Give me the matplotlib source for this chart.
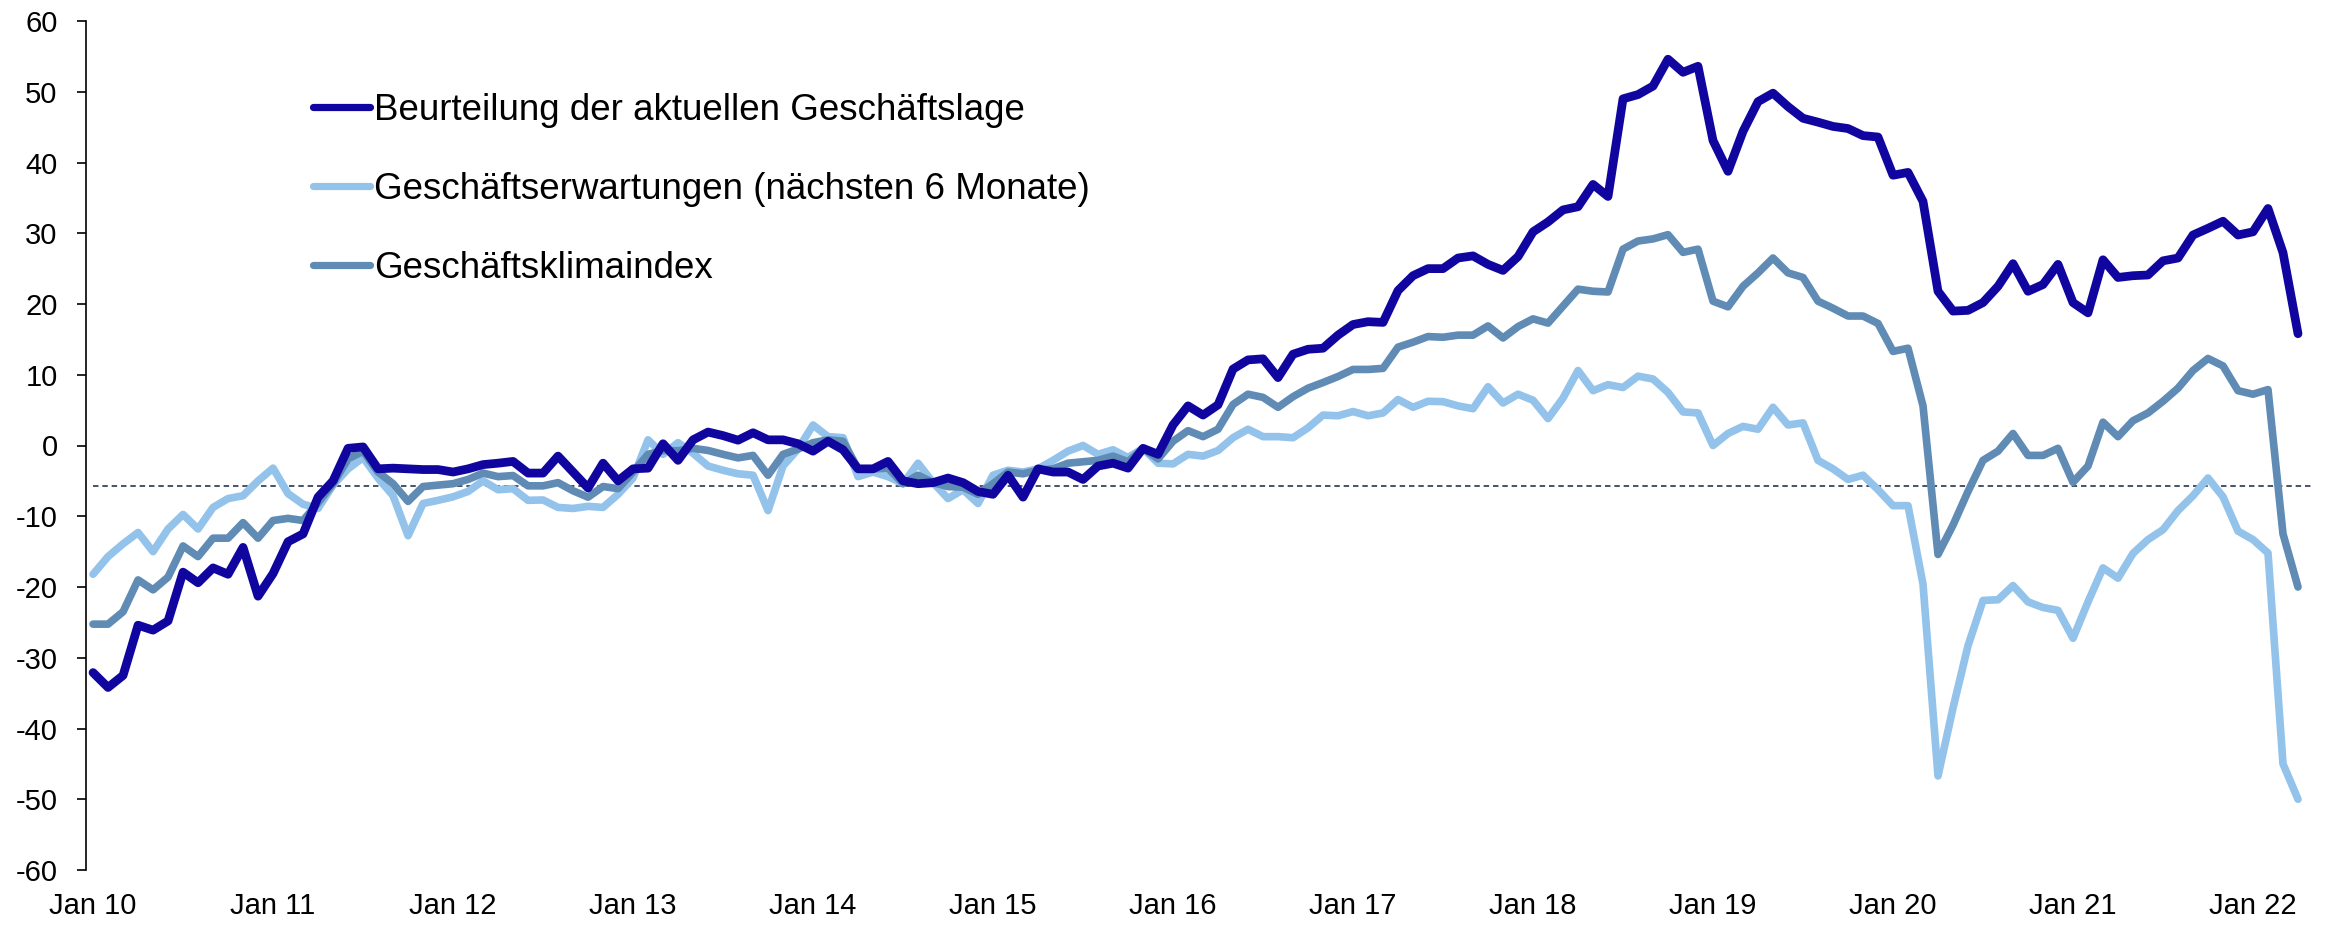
import matplotlib
matplotlib.use("Agg")
import matplotlib.pyplot as plt
import numpy as np

plt.rcParams['font.family'] = ['Liberation Sans', 'DejaVu Sans']
plt.rcParams['axes.unicode_minus'] = False

# ---- data (monthly, Jan 2010 - Apr 2022) ----
beurteilung = [
    -32.1, -34.2, -32.5, -25.4, -26.1, -24.8, -17.9, -19.4, -17.3, -18.2, -14.4, -21.3,
    -18.1, -13.6, -12.5, -7.3, -5.0, -0.4, -0.2, -3.3, -3.2, -3.3, -3.4, -3.4,
    -3.75, -3.3, -2.7, -2.5, -2.25, -3.9, -3.9, -1.5, -3.75, -6.0, -2.5, -5.0,
    -3.3, -3.2, 0.25, -2.1, 0.8, 1.9, 1.4, 0.75, 1.8, 0.8, 0.8, 0.25,
    -0.8, 0.6, -0.6, -3.3, -3.3, -2.25, -5.0, -5.4, -5.25, -4.6, -5.25, -6.5,
    -6.9, -4.2, -7.3, -3.3, -3.75, -3.75, -4.8, -2.9, -2.5, -3.2, -0.4, -1.25,
    2.9, 5.6, 4.3, 5.75, 10.8, 12.1, 12.25, 9.6, 12.9, 13.6, 13.75, 15.6,
    17.1, 17.5, 17.4, 21.9, 24.0, 25.0, 25.0, 26.5, 26.8, 25.6, 24.75, 26.7,
    30.2, 31.6, 33.3, 33.75, 36.9, 35.2, 49.0, 49.6, 50.8, 54.6, 52.75, 53.6,
    43.1, 38.75, 44.4, 48.6, 49.8, 47.9, 46.25, 45.7, 45.1, 44.8, 43.8, 43.6,
    38.2, 38.6, 34.5, 21.8, 19.0, 19.1, 20.2, 22.5, 25.7, 21.8, 22.75, 25.6,
    20.2, 18.75, 26.25, 23.75, 24.0, 24.1, 26.1, 26.5, 29.75, 30.7, 31.7, 29.75,
    30.2, 33.5, 27.25, 15.8,
]
erwartungen = [
    -18.2, -15.7, -13.9, -12.3, -15.0, -11.8, -9.75, -11.8, -8.75, -7.5, -7.1, -5.0,
    -3.2, -6.8, -8.3, -8.9, -5.6, -3.3, -1.7, -4.6, -7.1, -12.75, -8.2, -7.75,
    -7.25, -6.5, -5.0, -6.25, -6.1, -7.75, -7.7, -8.75, -8.9, -8.6, -8.75, -6.9,
    -4.6, 0.8, -1.25, 0.4, -1.1, -2.9, -3.5, -4.0, -4.2, -9.2, -2.9, -0.5,
    2.9, 1.25, 1.1, -4.4, -3.75, -4.4, -5.4, -2.5, -5.25, -7.5, -6.25, -8.2,
    -4.2, -3.5, -3.75, -3.3, -2.1, -0.8, 0.0, -1.25, -0.6, -1.7, -0.4, -2.5,
    -2.6, -1.25, -1.5, -0.7, 1.1, 2.3, 1.25, 1.25, 1.1, 2.5, 4.3, 4.2,
    4.8, 4.2, 4.6, 6.5, 5.4, 6.25, 6.2, 5.6, 5.2, 8.3, 6.0, 7.25,
    6.4, 3.8, 6.7, 10.6, 7.75, 8.6, 8.2, 9.8, 9.4, 7.5, 4.75, 4.6,
    0.0, 1.7, 2.7, 2.3, 5.4, 2.9, 3.2, -2.1, -3.3, -4.8, -4.2, -6.25,
    -8.5, -8.5, -19.6, -46.7, -37.1, -28.3, -21.9, -21.8, -19.8, -22.1, -22.9, -23.3,
    -27.25, -22.1, -17.3, -18.75, -15.25, -13.3, -11.9, -9.2, -7.1, -4.6, -7.25, -12.1,
    -13.3, -15.2, -45.0, -50.0,
]
klimaindex = [
    -25.25, -25.25, -23.5, -19.0, -20.4, -18.6, -14.2, -15.7, -13.1, -13.1, -10.9, -13.1,
    -10.6, -10.3, -10.6, -8.1, -5.4, -1.9, -0.8, -3.75, -5.4, -7.9, -5.8, -5.6,
    -5.4, -4.8, -3.9, -4.4, -4.25, -5.7, -5.7, -5.25, -6.4, -7.3, -5.8, -6.1,
    -3.75, -1.25, -0.7, -0.75, -0.4, -0.7, -1.25, -1.75, -1.4, -4.2, -1.25, -0.5,
    0.4, 0.8, 0.6, -3.3, -3.3, -3.2, -5.4, -4.2, -5.25, -5.8, -5.9, -6.9,
    -5.4, -3.75, -4.0, -3.5, -3.3, -2.5, -2.3, -2.1, -1.5, -2.3, -0.4, -1.9,
    0.6, 2.1, 1.25, 2.3, 5.8, 7.25, 6.8, 5.4, 6.9, 8.1, 8.9, 9.75,
    10.75, 10.75, 10.9, 13.9, 14.6, 15.4, 15.3, 15.6, 15.6, 16.9, 15.2, 16.8,
    17.9, 17.3, 19.7, 22.1, 21.8, 21.7, 27.75, 28.9, 29.2, 29.8, 27.3, 27.75,
    20.4, 19.6, 22.5, 24.4, 26.5, 24.4, 23.75, 20.4, 19.4, 18.3, 18.3, 17.25,
    13.3, 13.75, 5.6, -15.4, -11.25, -6.5, -2.1, -0.8, 1.7, -1.4, -1.4, -0.4,
    -5.2, -2.9, 3.3, 1.25, 3.5, 4.6, 6.25, 8.1, 10.6, 12.3, 11.25, 7.75,
    7.25, 7.9, -12.5, -20.0,
]
average_line = -5.7
series_labels = [
    "Beurteilung der aktuellen Geschäftslage",
    "Geschäftserwartungen (nächsten 6 Monate)",
    "Geschäftsklimaindex",
]
tick_labels = ["Jan 10", "Jan 11", "Jan 12", "Jan 13", "Jan 14", "Jan 15", "Jan 16",
               "Jan 17", "Jan 18", "Jan 19", "Jan 20", "Jan 21", "Jan 22"]

W, H = 2328, 925
fig = plt.figure(figsize=(W / 100, H / 100), dpi=100)
ax = fig.add_axes([86 / W, (H - 870) / H, (2313 - 86) / W, (870 - 21) / H])

x = np.arange(len(beurteilung))
c_dark = "#10069F"
c_light = "#93C2EA"
c_mid = "#5F8BB5"

ax.plot(x, erwartungen, color=c_light, lw=5.5, solid_joinstyle='round', solid_capstyle='round',
        label=series_labels[1], zorder=3)
ax.plot(x, klimaindex, color=c_mid, lw=5.5, solid_joinstyle='round', solid_capstyle='round',
        label=series_labels[2], zorder=4)
ax.plot(x, beurteilung, color=c_dark, lw=6.3, solid_joinstyle='round', solid_capstyle='round',
        label=series_labels[0], zorder=5)
ax.hlines(average_line, 0, 148, colors="#44546A", linestyles=(0, (2.8, 2.0)), lw=1.4, zorder=2)

ax.set_xlim(-0.47, 148)
ax.set_ylim(-60, 60)
ax.set_yticks(np.arange(-60, 61, 10))
ax.set_yticklabels([str(v) for v in range(-60, 61, 10)])
ax.set_xticks(np.arange(0, 12 * len(tick_labels), 12))
ax.set_xticklabels(tick_labels)

for s in ["top", "right", "bottom"]:
    ax.spines[s].set_visible(False)
ax.spines["left"].set_linewidth(1.2)
ax.spines["left"].set_color("#000000")
ax.tick_params(axis='y', length=6.5, width=1.2, pad=14, labelsize=21, direction='out')
ax.tick_params(axis='x', length=0, pad=16, labelsize=21)

handles, labels = ax.get_legend_handles_labels()
order = [2, 0, 1]
leg = ax.legend([handles[i] for i in order], [labels[i] for i in order],
                loc='upper left', bbox_to_anchor=(313 / W, 1 - 93 / H),
                bbox_transform=fig.transFigure, frameon=False, fontsize=26.5,
                handlelength=1.55, handletextpad=0.1, labelspacing=1.2,
                borderpad=0, borderaxespad=0)
for line in leg.get_lines():
    line.set_linewidth(5.2)
    line.set_solid_capstyle('round')

fig.savefig("out.png", dpi=100)
